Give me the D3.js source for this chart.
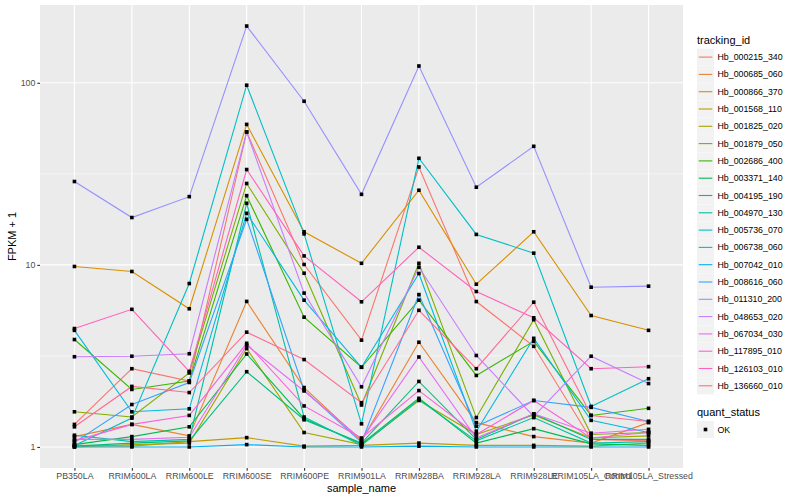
<!DOCTYPE html>
<html>
<head>
<meta charset="utf-8">
<script src="https://cdn.jsdelivr.net/npm/d3@7"></script>
<style>
  body { margin: 0; background: #fff; }
  text { font-family: "Liberation Sans", Arial, sans-serif; }
</style>
</head>
<body>
<svg id="chart" width="800" height="500"></svg>
<script>
const samples = ["PB350LA", "RRIM600LA", "RRIM600LE", "RRIM600SE", "RRIM600PE", "RRIM901LA",
    "RRIM928BA", "RRIM928LA", "RRIM928LE", "RRIM105LA_Control", "RRIM105LA_Stressed"];

const trackingIds = ["Hb_000215_340", "Hb_000685_060", "Hb_000866_370", "Hb_001568_110", "Hb_001825_020",
    "Hb_001879_050", "Hb_002686_400", "Hb_003371_140", "Hb_004195_190", "Hb_004970_130",
    "Hb_005736_070", "Hb_006738_060", "Hb_007042_010", "Hb_008616_060", "Hb_011310_200",
    "Hb_048653_020", "Hb_067034_030", "Hb_117895_010", "Hb_126103_010", "Hb_136660_010"];

// FPKM + 1, one row per tracking id, one column per sample
const fpkm = [
    [1.33, 2.69, 2.3, 53.7, 10.05, 3.86, 34.5, 6.29, 3.57, 1.1, 1.08],
    [1.14, 1.33, 1.15, 6.3, 2.12, 1.08, 3.76, 1.36, 1.14, 1.05, 1.36],
    [9.8, 9.2, 5.74, 59.1, 15.2, 10.2, 25.7, 7.83, 15.2, 5.27, 4.37],
    [1.02, 1.01, 1.07, 1.125, 1.01, 1.02, 1.05, 1.02, 1.02, 1.01, 1.05],
    [1.0, 1.03, 1.05, 3.47, 1.2, 1.03, 1.8, 1.17, 1.5, 1.12, 1.15],
    [1.56, 1.46, 2.55, 28, 9.0, 1.7, 10.2, 1.45, 5.0, 1.17, 1.2],
    [3.89, 2.07, 2.3, 24, 5.16, 2.74, 6.4, 2.47, 3.8, 1.49, 1.63],
    [1.03, 1.14, 1.29, 3.24, 1.43, 1.04, 1.85, 1.05, 1.26, 1.04, 1.02],
    [1.01, 1.05, 1.08, 2.59, 1.41, 1.05, 2.29, 1.1, 1.52, 1.1, 1.1],
    [1.16, 1.07, 1.1, 21.8, 1.46, 1.02, 1.82, 1.08, 1.45, 1.05, 1.07],
    [1.02, 1.44, 7.9, 97, 14.8, 1.34, 38.5, 14.7, 11.6, 1.67, 2.37],
    [4.37, 1.56, 1.62, 19.2, 6.4, 2.74, 8.97, 1.22, 3.95, 1.4, 1.2],
    [1.0, 1.0, 1.0, 1.03, 1.0, 1.0, 1.01, 1.0, 1.0, 1.0, 1.0],
    [1.06, 1.71, 2.26, 17.8, 2.05, 1.06, 6.87, 1.3, 1.8, 1.65, 1.38],
    [28.7, 18.2, 23.7, 205, 79.2, 24.4, 123.7, 26.7, 44.8, 7.54, 7.64],
    [3.13, 3.15, 3.25, 53.7, 7.0, 2.14, 9.7, 3.18, 1.47, 3.15, 2.23],
    [1.1, 1.1, 1.13, 3.62, 2.03, 1.1, 3.12, 1.12, 1.52, 1.19, 1.25],
    [1.08, 1.33, 1.49, 3.71, 1.68, 1.12, 2.04, 1.17, 1.8, 1.12, 1.2],
    [4.47, 5.7, 2.6, 33.4, 11.2, 6.27, 12.5, 7.14, 5.12, 2.69, 2.76],
    [1.29, 2.15, 1.99, 4.27, 3.02, 1.75, 5.63, 2.69, 6.24, 1.49, 1.38]
];

const yTicks = [1, 10, 100];

// ggplot2 default hue palette for 20 levels
const colors = ["#F8766D", "#EA8331", "#D89000", "#C09B00", "#A3A500", "#7CAE00", "#39B600", "#00BB4E",
    "#00BF7D", "#00C1A3", "#00BFC4", "#00BAE0", "#00B0F6", "#35A2FF", "#9590FF", "#C77CFF",
    "#E76BF3", "#FA62DB", "#FF62BC", "#FF6C91"];

const panel = { left: 40, right: 683, top: 5, bottom: 468 };
const svg = d3.select("#chart");

const series = trackingIds.map((id, i) => ({
    id: id,
    color: colors[i],
    values: samples.map((s, j) => ({ sample: s, value: fpkm[i][j] }))
}));

const x = d3.scalePoint().domain(samples).range([panel.left, panel.right]).padding(0.6);

const maxLog = Math.log10(d3.max(fpkm.flat()));
const pad = maxLog * 0.05;
const y = d3.scaleLog()
    .domain([Math.pow(10, -pad), Math.pow(10, maxLog + pad)])
    .range([panel.bottom, panel.top]);

// panel background
svg.append("rect")
    .attr("x", panel.left).attr("y", panel.top)
    .attr("width", panel.right - panel.left).attr("height", panel.bottom - panel.top)
    .attr("fill", "#EBEBEB");

// minor grid (half decades)
const minor = [];
for (let k = -1; k < 3; k++) minor.push(Math.pow(10, k + 0.5));
svg.append("g").selectAll("line")
    .data(minor.filter(v => y(v) > panel.top && y(v) < panel.bottom))
    .join("line")
    .attr("x1", panel.left).attr("x2", panel.right)
    .attr("y1", d => y(d)).attr("y2", d => y(d))
    .attr("stroke", "#fff").attr("stroke-width", 0.55);

// major grid
svg.append("g").selectAll("line")
    .data(yTicks)
    .join("line")
    .attr("x1", panel.left).attr("x2", panel.right)
    .attr("y1", d => y(d)).attr("y2", d => y(d))
    .attr("stroke", "#fff").attr("stroke-width", 1.1);

svg.append("g").selectAll("line")
    .data(samples)
    .join("line")
    .attr("x1", d => x(d)).attr("x2", d => x(d))
    .attr("y1", panel.top).attr("y2", panel.bottom)
    .attr("stroke", "#fff").attr("stroke-width", 1.1);

// lines
const line = d3.line().x(d => x(d.sample)).y(d => y(d.value));
svg.append("g").selectAll("path")
    .data(series)
    .join("path")
    .attr("d", d => line(d.values))
    .attr("fill", "none")
    .attr("stroke", d => d.color)
    .attr("stroke-width", 1.1);

// points
svg.append("g").selectAll("rect")
    .data(series.flatMap(d => d.values))
    .join("rect")
    .attr("x", d => x(d.sample) - 1.8)
    .attr("y", d => y(d.value) - 1.8)
    .attr("width", 3.6).attr("height", 3.6)
    .attr("fill", "#000");

// axes
const xAxis = svg.append("g")
    .attr("transform", `translate(0,${panel.bottom})`)
    .call(d3.axisBottom(x).tickSize(2.7).tickPadding(2));
const yAxis = svg.append("g")
    .attr("transform", `translate(${panel.left},0)`)
    .call(d3.axisLeft(y).tickValues(yTicks).tickFormat(d3.format("d")).tickSize(2.7).tickPadding(2));

[xAxis, yAxis].forEach(a => {
    a.select(".domain").remove();
    a.selectAll(".tick line").attr("stroke", "#333").attr("stroke-width", 1.1);
    a.selectAll(".tick text")
        .attr("fill", "#4D4D4D")
        .style("font-size", "8.8px")
        .style("font-family", "'Liberation Sans', Arial, sans-serif");
});

svg.append("text")
    .attr("x", (panel.left + panel.right) / 2).attr("y", 492)
    .attr("text-anchor", "middle")
    .style("font-size", "11px")
    .text("sample_name");

svg.append("text")
    .attr("transform", `translate(16,${(panel.top + panel.bottom) / 2}) rotate(-90)`)
    .attr("text-anchor", "middle")
    .style("font-size", "11px")
    .text("FPKM + 1");

// legend: tracking_id
const legend = svg.append("g").attr("transform", "translate(697,0)");
legend.append("text")
    .attr("x", 0).attr("y", 44)
    .style("font-size", "11px")
    .text("tracking_id");

const keyH = 17.3;
const keys = legend.selectAll("g.key")
    .data(series)
    .join("g")
    .attr("class", "key")
    .attr("transform", (d, i) => `translate(0,${48.6 + i * keyH})`);
keys.append("rect")
    .attr("width", 17).attr("height", 17)
    .attr("fill", "#F2F2F2");
keys.append("line")
    .attr("x1", 1.7).attr("x2", 15.3)
    .attr("y1", 8.5).attr("y2", 8.5)
    .attr("stroke", d => d.color).attr("stroke-width", 1.1);
keys.append("text")
    .attr("x", 20.5).attr("y", 11.6)
    .style("font-size", "8.8px")
    .text(d => d.id);

// legend: quant_status
legend.append("text")
    .attr("x", 0).attr("y", 416)
    .style("font-size", "11px")
    .text("quant_status");
legend.append("rect")
    .attr("x", 0).attr("y", 421)
    .attr("width", 17).attr("height", 17)
    .attr("fill", "#F2F2F2");
legend.append("rect")
    .attr("x", 6.7).attr("y", 427.7)
    .attr("width", 3.6).attr("height", 3.6)
    .attr("fill", "#000");
legend.append("text")
    .attr("x", 20.5).attr("y", 432.6)
    .style("font-size", "8.8px")
    .text("OK");
</script>
</body>
</html>
